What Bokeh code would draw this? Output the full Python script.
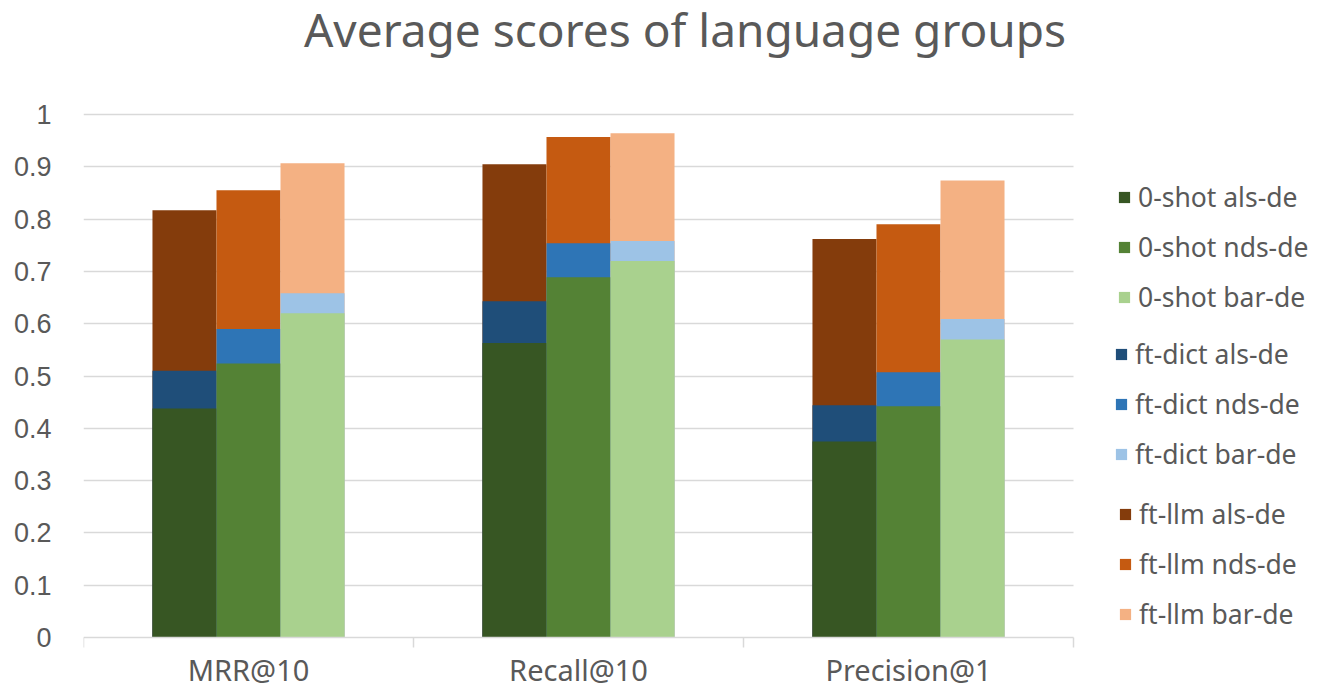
from bokeh.plotting import figure
from bokeh.models import (Range1d, Legend, LegendItem, Label, Grid,
                          FixedTicker, ColumnDataSource)
from bokeh.transform import dodge
from bokeh.core.properties import value
from bokeh.embed import file_html
from bokeh.resources import INLINE

# ---------------- data ----------------
metrics = ["MRR@10", "Recall@10", "Precision@1"]
languages = ["als-de", "nds-de", "bar-de"]
groups = ["0-shot", "ft-dict", "ft-llm"]

zero_shot_als = [0.438, 0.563, 0.375]
zero_shot_nds = [0.524, 0.689, 0.442]
zero_shot_bar = [0.620, 0.720, 0.570]

ft_dict_als = [0.510, 0.643, 0.444]
ft_dict_nds = [0.590, 0.754, 0.507]
ft_dict_bar = [0.658, 0.758, 0.609]

ft_llm_als = [0.817, 0.905, 0.762]
ft_llm_nds = [0.855, 0.957, 0.790]
ft_llm_bar = [0.907, 0.964, 0.874]

y_ticks = [0, 0.1, 0.2, 0.3, 0.4, 0.5, 0.6, 0.7, 0.8, 0.9, 1]
y_tick_labels = ["0", "0.1", "0.2", "0.3", "0.4", "0.5", "0.6", "0.7", "0.8", "0.9", "1"]

title_text = "Average scores of language groups"

# ---------------- styles ----------------
colors = {
    ("0-shot", "als-de"): "#375623", ("0-shot", "nds-de"): "#548235", ("0-shot", "bar-de"): "#A9D18E",
    ("ft-dict", "als-de"): "#1F4E79", ("ft-dict", "nds-de"): "#2E75B6", ("ft-dict", "bar-de"): "#9DC3E6",
    ("ft-llm", "als-de"): "#843C0C", ("ft-llm", "nds-de"): "#C55A11", ("ft-llm", "bar-de"): "#F4B183",
}
offsets = {"als-de": -0.194, "nds-de": 0.0, "bar-de": 0.194}
bar_w = 0.194
text_col = "#595959"
grid_col = "#D9D9D9"

W, H = 1341, 687
left_px = 83          # plot area starts at x=83
base_px = 637         # value 0 sits at y=637
cat_px = 330          # pixels per category
unit_px = 523         # pixels per 1.0 on the y axis

n = len(metrics)
centres = [i + 0.5 for i in range(n)]
boundaries = [float(i) for i in range(n + 1)]

source = ColumnDataSource(dict(
    xc=centres,
    zs_als=zero_shot_als, zs_nds=zero_shot_nds, zs_bar=zero_shot_bar,
    fd_als=ft_dict_als, fd_nds=ft_dict_nds, fd_bar=ft_dict_bar,
    fl_als=ft_llm_als, fl_nds=ft_llm_nds, fl_bar=ft_llm_bar,
))

px = 1.0 / unit_px
x_end = (W - left_px) / cat_px
p = figure(width=W, height=H, x_range=Range1d(0, x_end),
           y_range=Range1d(-(H - base_px) * px, base_px * px),
           output_backend="svg", toolbar_location=None, x_axis_location=None,
           min_border_left=left_px, min_border_right=0, min_border_top=0,
           min_border_bottom=0)
p.outline_line_color = None
p.background_fill_color = "white"
p.border_fill_color = "white"

# y axis
p.yaxis.ticker = FixedTicker(ticks=y_ticks)
p.yaxis.major_label_overrides = dict(zip(y_ticks, y_tick_labels))
p.yaxis.axis_line_color = None
p.yaxis.major_tick_line_color = None
p.yaxis.minor_tick_line_color = None
p.yaxis.major_label_standoff = 26
p.yaxis.major_label_text_font = "Liberation Sans"
p.yaxis.major_label_text_font_size = "27px"
p.yaxis.major_label_text_color = text_col

p.xgrid.grid_line_color = None
if "cross_bounds" in Grid.properties():
    p.ygrid.ticker = FixedTicker(ticks=y_ticks[1:])
    p.ygrid.grid_line_color = grid_col
    p.ygrid.grid_line_width = 1.5
    p.ygrid.cross_bounds = (0, n)
else:
    p.ygrid.grid_line_color = None
    gy = y_ticks[1:]
    p.segment(x0=[0] * len(gy), x1=[n] * len(gy), y0=gy, y1=gy,
              line_color=grid_col, line_width=1.5)

# bars: ft-llm (back), ft-dict, 0-shot (front)
renderers = {}
for prefix, grp in [("fl", "ft-llm"), ("fd", "ft-dict"), ("zs", "0-shot")]:
    for lang, short in [("als-de", "als"), ("nds-de", "nds"), ("bar-de", "bar")]:
        r = p.vbar(x=dodge("xc", offsets[lang]), top=f"{prefix}_{short}",
                   bottom=0, width=bar_w, source=source, fill_color=colors[(grp, lang)],
                   line_color=None)
        renderers[(grp, lang)] = r

# category axis: base line, separator ticks, labels
p.segment(x0=[0], x1=[n], y0=[0], y1=[0], line_color=grid_col, line_width=1.5)
p.segment(x0=boundaries, x1=boundaries, y0=[0] * len(boundaries),
          y1=[-10 * px] * len(boundaries), line_color=grid_col, line_width=1.5)
p.text(x=centres, y=[-32 * px] * n, text=metrics, text_align="center",
       text_baseline="middle", text_font=value("Noto Sans"), text_font_size="29px",
       text_color=text_col)

# title
p.add_layout(Label(x=(684.5 - left_px) / cat_px, y=(base_px - 28) * px,
                   text=title_text, text_align="center", text_baseline="alphabetic",
                   text_font="Noto Sans", text_font_size="46px", text_color=text_col))

# legends: three groups of three
def make_legend(grp, x, y):
    items = [LegendItem(label=f"{grp} {lang}", renderers=[renderers[(grp, lang)]]) for lang in languages]
    return Legend(items=items, location=(x, y), orientation="vertical",
                  glyph_width=14, glyph_height=14, label_standoff=7,
                  label_text_font="Noto Sans", label_text_font_size="26.5px",
                  label_text_color=text_col, label_height=36, spacing=14,
                  padding=0, margin=0, border_line_color=None, background_fill_alpha=0)

p.add_layout(make_legend("0-shot", 1034, 372), "center")
p.add_layout(make_legend("ft-dict", 1031, 215), "center")
p.add_layout(make_legend("ft-llm", 1035, 55), "center")

open("out.html", "w").write(file_html(p, INLINE))
